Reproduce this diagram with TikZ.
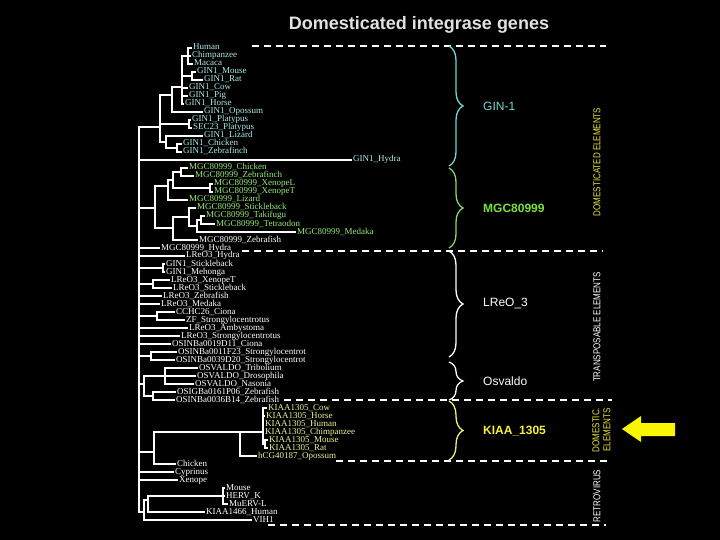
\documentclass[tikz,border=0pt]{standalone}
\usepackage{graphicx}
\usepackage{fontspec}
\setmainfont{Liberation Serif}
\newfontfamily\sansf{Liberation Sans}
\usetikzlibrary{decorations.pathreplacing}
\definecolor{cyanl}{RGB}{175,235,235}
\definecolor{greenl}{RGB}{150,235,120}
\definecolor{yell}{RGB}{240,240,150}
\definecolor{bcyan}{RGB}{110,215,215}
\definecolor{bgreen}{RGB}{140,215,100}
\definecolor{byel}{RGB}{240,240,120}
\definecolor{lcyan}{RGB}{120,215,215}
\definecolor{lgreen}{RGB}{120,225,60}
\definecolor{lyel}{RGB}{245,240,60}
\definecolor{arrowy}{RGB}{250,245,0}
\definecolor{titleg}{RGB}{225,225,225}
\definecolor{sidey}{RGB}{235,230,60}
\begin{document}
\begin{tikzpicture}[x=1pt,y=-1pt,
  branch/.style={draw=white, line width=1.1pt},
  leafw/.style={anchor=west, inner sep=0pt, inner xsep=1pt, text height=5.5pt, text depth=1.5pt, font=\fontsize{9}{9}\selectfont, text=white},
  leafc/.style={leafw, text=cyanl},
  leafg/.style={leafw, text=greenl},
  leafy/.style={leafw, text=yell},
  sepline/.style={draw=white, line width=1.1pt, dash pattern=on 7pt off 5pt},
  brc/.style={decorate, decoration={brace, amplitude=14pt}, line width=1.3pt},
  grp/.style={anchor=west, inner sep=0pt, font=\sansf\fontsize{12}{12}\selectfont},
  side/.style={rotate=90, inner sep=0pt, font=\sansf\fontsize{10}{10}\selectfont}
]
\useasboundingbox (0,0) rectangle (720,540);
\fill[black] (0,0) rectangle (720,540);

\node[font=\sansf\bfseries\fontsize{18}{18}\selectfont, text=titleg, inner sep=0pt] (title) at (419,25) {Domesticated integrase genes};

% ---------- coordinates of internal nodes ----------
\coordinate (root) at (139,320);
\coordinate (g0) at (160,127);
\coordinate (gT) at (172,95);
\coordinate (gM) at (182,87);
\coordinate (gP) at (188,56);
\coordinate (gR) at (192,76);
\coordinate (gPl) at (189,124);
\coordinate (gS) at (166,142);
\coordinate (gB) at (177,148);

\coordinate (mg0) at (155,208);
\coordinate (mA) at (168,186);
\coordinate (mA1) at (173,180);
\coordinate (mBd) at (181,172);
\coordinate (mX) at (210,188);
\coordinate (mB) at (173,228);
\coordinate (mB1) at (189,217);
\coordinate (mB2) at (197,226);
\coordinate (mF) at (201,220);

\coordinate (lG) at (163,268);
\coordinate (lX) at (153,284);
\coordinate (lC) at (157,316);
\coordinate (oP) at (151,356);
\coordinate (oO) at (144,384);
\coordinate (oV) at (165,376);
\coordinate (oZ) at (153,396);

\coordinate (kK0) at (154,452);
\coordinate (kK1) at (240,432);
\coordinate (kK2) at (263,432);
\coordinate (kR) at (265,444);

\coordinate (rR0) at (144,512);
\coordinate (rR1) at (148,500);
\coordinate (rE) at (223,496);

% ---------- leaves ----------
\node[leafc] (hum) at (192,48) {Human};
\node[leafc] (chi) at (191,56) {Chimpanzee};
\node[leafc] (mac) at (193,64) {Macaca};
\node[leafc] (gmou) at (196,72) {GIN1\_Mouse};
\node[leafc] (grat) at (203,80) {GIN1\_Rat};
\node[leafc] (gcow) at (188,88) {GIN1\_Cow};
\node[leafc] (gpig) at (188,96) {GIN1\_Pig};
\node[leafc] (ghor) at (184,104) {GIN1\_Horse};
\node[leafc] (gopo) at (203,112) {GIN1\_Opossum};
\node[leafc] (gpla) at (191,120) {GIN1\_Platypus};
\node[leafc] (spla) at (192,128) {SEC23\_Platypus};
\node[leafc] (gliz) at (203,136) {GIN1\_Lizard};
\node[leafc] (gchk) at (182,144) {GIN1\_Chicken};
\node[leafc] (gzeb) at (182,152) {GIN1\_Zebrafinch};
\node[leafc] (ghyd) at (352,160) {GIN1\_Hydra};

\node[leafg] (mchk) at (188,168) {MGC80999\_Chicken};
\node[leafg] (mzeb) at (194,176) {MGC80999\_Zebrafinch};
\node[leafg] (mxl) at (213,184) {MGC80999\_XenopeL};
\node[leafg] (mxt) at (213,192) {MGC80999\_XenopeT};
\node[leafg] (mliz) at (188,200) {MGC80999\_Lizard};
\node[leafg] (mstk) at (196,208) {MGC80999\_Stickleback};
\node[leafg] (mtak) at (205,216) {MGC80999\_Takifugu};
\node[leafg] (mtet) at (215,224) {MGC80999\_Tetraodon};
\node[leafg] (mmed) at (296,232) {MGC80999\_Medaka};
\node[leafw] (mzf) at (198,240) {MGC80999\_Zebrafish};
\node[leafw] (mhyd) at (160,248) {MGC80999\_Hydra};

\node[leafw] (lhyd) at (185,256) {LReO3\_Hydra};
\node[leafw] (gstk) at (165,264) {GIN1\_Stickleback};
\node[leafw] (gmeh) at (165,272) {GIN1\_Mehonga};
\node[leafw] (lxen) at (170,280) {LReO3\_XenopeT};
\node[leafw] (lstk) at (172,288) {LReO3\_Stickleback};
\node[leafw] (lzf) at (162,296) {LReO3\_Zebrafish};
\node[leafw] (lmed) at (160,304) {LReO3\_Medaka};
\node[leafw] (ccc) at (175,312) {CCHC26\_Ciona};
\node[leafw] (zfs) at (185,320) {ZF\_Strongylocentrotus};
\node[leafw] (lamb) at (188,328) {LReO3\_Ambystoma};
\node[leafw] (lstr) at (180,336) {LReO3\_Strongylocentrotus};
\node[leafw] (o19) at (171,344) {OSINBa0019D11\_Ciona};
\node[leafw] (o11) at (177,352) {OSINBa0011F23\_Strongylocentrot};
\node[leafw] (o39) at (175,360) {OSINBa0039D20\_Strongylocentrot};
\node[leafw] (otri) at (198,368) {OSVALDO\_Tribolium};
\node[leafw] (odro) at (196,376) {OSVALDO\_Drosophila};
\node[leafw] (onas) at (194,384) {OSVALDO\_Nasonia};
\node[leafw] (osig) at (176,392) {OSIGBa0161P06\_Zebrafish};
\node[leafw] (o36) at (175,400) {OSINBa0036B14\_Zebrafish};

\node[leafy] (kcow) at (267,408) {KIAA1305\_Cow};
\node[leafy] (khor) at (265,416) {KIAA1305\_Horse};
\node[leafy] (khum) at (264,424) {KIAA1305\_Human};
\node[leafy] (kchi) at (264,432) {KIAA1305\_Chimpanzee};
\node[leafy] (kmou) at (268,440) {KIAA1305\_Mouse};
\node[leafy] (krat) at (268,448) {KIAA1305\_Rat};
\node[leafy] (kopo) at (257,456) {hCG40187\_Opossum};
\node[leafw] (kchk) at (176,464) {Chicken};
\node[leafw] (kcyp) at (174,472) {Cyprinus};
\node[leafw] (kxen) at (178,480) {Xenope};

\node[leafw] (rmou) at (225,488) {Mouse};
\node[leafw] (rherv) at (225,496) {HERV\_K};
\node[leafw] (rmm) at (228,504) {MuERV-L};
\node[leafw] (rkia) at (205,512) {KIAA1466\_Human};
\node[leafw] (rvih) at (252,520) {VIH1};

% ---------- branches ----------
\foreach \c in {g0,mg0,lG,lX,lC,oP,oO,kK0,rR0} \draw[branch] (root) |- (\c);
\foreach \c in {ghyd,mhyd,lhyd,lzf,lmed,lamb,lstr,o19,kcyp,kxen} \draw[branch] (root) |- (\c.west);

\foreach \c in {gT,gPl,gS} \draw[branch] (g0) |- (\c);
\draw[branch] (gT) |- (gM);
\draw[branch] (gT) |- (gopo.west);
\draw[branch] (gM) |- (gP);
\draw[branch] (gM) |- (gR);
\foreach \c in {gcow,gpig,ghor} \draw[branch] (gM) |- (\c.west);
\foreach \c in {hum,chi,mac} \draw[branch] (gP) |- (\c.west);
\foreach \c in {gmou,grat} \draw[branch] (gR) |- (\c.west);
\foreach \c in {gpla,spla} \draw[branch] (gPl) |- (\c.west);
\draw[branch] (gS) |- (gliz.west);
\draw[branch] (gS) |- (gB);
\foreach \c in {gchk,gzeb} \draw[branch] (gB) |- (\c.west);

\draw[branch] (mg0) |- (mA);
\draw[branch] (mg0) |- (mB);
\draw[branch] (mA) |- (mA1);
\draw[branch] (mA) |- (mliz.west);
\draw[branch] (mA1) |- (mBd);
\draw[branch] (mA1) |- (mX);
\foreach \c in {mchk,mzeb} \draw[branch] (mBd) |- (\c.west);
\foreach \c in {mxl,mxt} \draw[branch] (mX) |- (\c.west);
\draw[branch] (mB) |- (mB1);
\draw[branch] (mB) |- (mzf.west);
\draw[branch] (mB1) |- (mstk.west);
\draw[branch] (mB1) |- (mB2);
\draw[branch] (mB2) |- (mF);
\draw[branch] (mB2) |- (mmed.west);
\foreach \c in {mtak,mtet} \draw[branch] (mF) |- (\c.west);

\foreach \c in {gstk,gmeh} \draw[branch] (lG) |- (\c.west);
\foreach \c in {lxen,lstk} \draw[branch] (lX) |- (\c.west);
\foreach \c in {ccc,zfs} \draw[branch] (lC) |- (\c.west);
\foreach \c in {o11,o39} \draw[branch] (oP) |- (\c.west);
\draw[branch] (oO) |- (oV);
\draw[branch] (oO) |- (oZ);
\foreach \c in {otri,odro,onas} \draw[branch] (oV) |- (\c.west);
\foreach \c in {osig,o36} \draw[branch] (oZ) |- (\c.west);

\draw[branch] (kK0) |- (kK1);
\draw[branch] (kK0) |- (kchk.west);
\draw[branch] (kK1) |- (kK2);
\draw[branch] (kK1) |- (kopo.west);
\foreach \c in {kcow,khor,khum,kchi} \draw[branch] (kK2) |- (\c.west);
\draw[branch] (kK2) |- (kR);
\foreach \c in {kmou,krat} \draw[branch] (kR) |- (\c.west);

\draw[branch] (rR0) |- (rR1);
\draw[branch] (rR0) |- (rvih.west);
\draw[branch] (rR1) |- (rE);
\draw[branch] (rR1) |- (rkia.west);
\foreach \c in {rmou,rherv,rmm} \draw[branch] (rE) |- (\c.west);

% ---------- separators ----------
\coordinate (s1a) at (252,46);  \coordinate (s1b) at (606,46);
\coordinate (s2a) at (242,251); \coordinate (s2b) at (603,251);
\coordinate (s3a) at (284,400); \coordinate (s3b) at (612,400);
\coordinate (s4a) at (336,461); \coordinate (s4b) at (608,461);
\coordinate (s5a) at (268,525); \coordinate (s5b) at (606,525);
\draw[sepline] (s1a) -- (s1b);
\draw[sepline] (s2a) -- (s2b);
\draw[sepline] (s3a) -- (s3b);
\draw[sepline] (s4a) -- (s4b);
\draw[sepline] (s5a) -- (s5b);

% ---------- braces ----------
\draw[brc, bcyan] (449,46) -- (449,166);
\draw[brc, bgreen] (449,168) -- (449,248);
\draw[brc, white] (449,251) -- (449,357);
\draw[brc, white] (449,362) -- (449,400);
\draw[brc, byel] (449,401) -- (449,460);

\node[grp, text=lcyan] (lgin) at (483,106) {GIN-1};
\node[grp, text=lgreen, font=\sansf\bfseries\fontsize{12}{12}\selectfont] (lmgc) at (483,208) {MGC80999};
\node[grp, text=white] (llreo) at (483,304) {LReO\_3};
\node[grp, text=white] (losv) at (483,381) {Osvaldo};
\node[grp, text=lyel, font=\sansf\bfseries\fontsize{12}{12}\selectfont] (lkiaa) at (483,431) {KIAA\_1305};

% ---------- side labels ----------
\node[side, text=sidey] (sdom) at (597,162) {\scalebox{0.8}[1]{DOMESTICATED ELEMENTS}};
\node[side, text=white] (stra) at (597,327) {\scalebox{0.8}[1]{TRANSPOSABLE ELEMENTS}};
\node[side, text=sidey] (sdo1) at (596,430) {\scalebox{0.8}[1]{DOMESTIC.}};
\node[side, text=sidey] (sdo2) at (607,430) {\scalebox{0.8}[1]{ELEMENTS}};
\node[side, text=white] (sret) at (597,496) {\scalebox{0.8}[1]{RETROVIRUS}};

% ---------- arrow ----------
\fill[arrowy] (622,429) -- (641,416) -- (641,423) -- (675,423) -- (675,436) -- (641,436) -- (641,442) -- cycle;
\end{tikzpicture}
\end{document}
